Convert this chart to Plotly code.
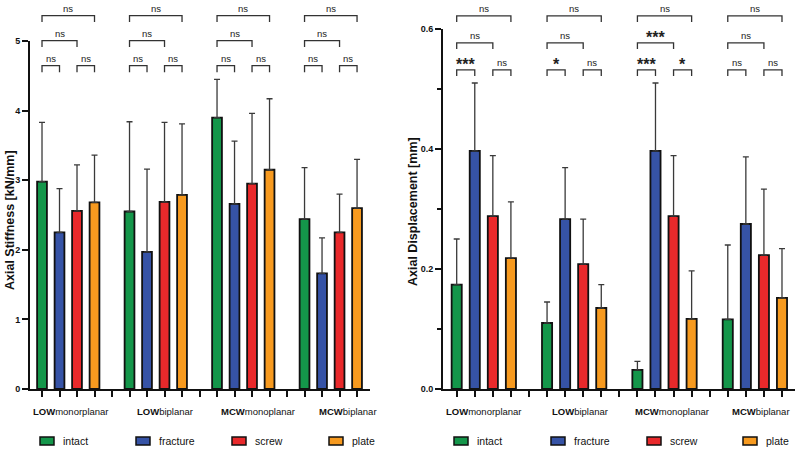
import plotly.graph_objects as go

# ---------------- data ----------------
groups = ["LOW", "LOW", "MCW", "MCW"]
group_suffix = ["monorplanar", "biplanar", "monoplanar", "biplanar"]
conditions = ["intact", "fracture", "screw", "plate"]
colors = ["#14964a", "#3653a6", "#e9292b", "#f79a1f"]

# Axial stiffness [kN/mm]: mean per condition for each group
stiff_intact = [2.98, 2.55, 3.90, 2.44]
stiff_fracture = [2.25, 1.97, 2.66, 1.66]
stiff_screw = [2.56, 2.69, 2.95, 2.25]
stiff_plate = [2.68, 2.79, 3.15, 2.60]
stiff_sd_intact = [0.85, 1.29, 0.55, 0.74]
stiff_sd_fracture = [0.63, 1.19, 0.90, 0.51]
stiff_sd_screw = [0.66, 1.14, 1.01, 0.55]
stiff_sd_plate = [0.68, 1.02, 1.02, 0.70]

# Axial displacement [mm]
disp_intact = [0.174, 0.110, 0.032, 0.116]
disp_fracture = [0.397, 0.283, 0.397, 0.275]
disp_screw = [0.288, 0.208, 0.288, 0.223]
disp_plate = [0.218, 0.135, 0.117, 0.152]
disp_sd_intact = [0.076, 0.035, 0.014, 0.124]
disp_sd_fracture = [0.113, 0.086, 0.113, 0.112]
disp_sd_screw = [0.101, 0.075, 0.101, 0.110]
disp_sd_plate = [0.094, 0.039, 0.080, 0.082]

# significance labels per group: pairs (intact-fracture), (screw-plate), (intact-screw), (intact-plate)
stiff_sig = [["ns", "ns", "ns", "ns"]] * 4
disp_sig = [["***", "ns", "ns", "ns"],
            ["*", "ns", "ns", "ns"],
            ["***", "*", "***", "ns"],
            ["ns", "ns", "ns", "ns"]]

stiff_yticks = [0, 1, 2, 3, 4, 5]
disp_yticks = [0.0, 0.2, 0.4, 0.6]
disp_minor = [0.1, 0.3, 0.5]

# ---------------- layout helpers ----------------
W, H = 799, 450
FONT = "Liberation Sans, Arial, Helvetica, sans-serif"


def pxx(p):
    return p / W


def pxy(p):
    return 1 - p / H


panels = [
    dict(xax="x", yax="y", xdom=(30, 370), xr=(-0.686, 18.74), ydom=(389, 41), yr=(0, 5),
         means=[stiff_intact, stiff_fracture, stiff_screw, stiff_plate],
         sds=[stiff_sd_intact, stiff_sd_fracture, stiff_sd_screw, stiff_sd_plate],
         sig=stiff_sig, levels=[4.645, 5.005, 5.365], tick=0.093,
         title="Axial Stiffness [kN/mm]", title_x=10, title_y=220,
         label_x=[1.63, 7.03, 12.34, 17.46],
         leg_box=[40, 136, 232, 329]),
    dict(xax="x2", yax="y2", xdom=(443, 795), xr=(-0.758, 18.72), ydom=(389, 29), yr=(0, 0.6),
         means=[disp_intact, disp_fracture, disp_screw, disp_plate],
         sds=[disp_sd_intact, disp_sd_fracture, disp_sd_screw, disp_sd_plate],
         sig=disp_sig, levels=[0.532, 0.577, 0.622], tick=0.0105,
         title="Axial Displacement [mm]", title_x=413, title_y=212,
         label_x=[1.49, 6.85, 11.90, 16.86],
         leg_box=[454, 551, 647, 743]),
]


def y_to_paper(p, v):
    d0, d1 = pxy(p["ydom"][0]), pxy(p["ydom"][1])
    r0, r1 = p["yr"]
    return d0 + (v - r0) / (r1 - r0) * (d1 - d0)


fig = go.Figure()
shapes = []
annotations = []

for p in panels:
    for ci, cond in enumerate(conditions):
        xs = [g * 5 + ci for g in range(4)]
        fig.add_trace(go.Bar(
            x=xs, y=p["means"][ci], width=0.56,
            marker=dict(color=colors[ci], line=dict(color="#111111", width=1.8)),
            error_y=dict(type="data", array=p["sds"][ci], arrayminus=[0] * 4, symmetric=False,
                         color="#3a3a3a", thickness=1.3, width=3),
            xaxis=p["xax"], yaxis=p["yax"], showlegend=False, name=cond,
        ))

    # significance brackets
    pairs = [(0, 1, 0), (2, 3, 0), (0, 2, 1), (0, 3, 2)]
    for g in range(4):
        for k, (a, b, lev) in enumerate(pairs):
            xa, xb = g * 5 + a, g * 5 + b
            top = y_to_paper(p, p["levels"][lev])
            bot = y_to_paper(p, p["levels"][lev] - p["tick"])
            shapes.append(dict(type="path", xref=p["xax"], yref="paper",
                               path=f"M {xa},{bot} L {xa},{top} L {xb},{top} L {xb},{bot}",
                               line=dict(color="#333333", width=1.3)))
            txt = p["sig"][g][k]
            star = txt != "ns"
            annotations.append(dict(
                x=(xa + xb) / 2, xref=p["xax"], xanchor="center", yref="paper",
                y=top, yanchor="bottom", yshift=(-5 if star else 0),
                text=f"<b>{txt}</b>" if star else txt, showarrow=False,
                font=dict(family=FONT, size=16 if star else 9.5, color="#222222")))

    # group labels
    for g in range(4):
        annotations.append(dict(
            x=p["label_x"][g], xref=p["xax"], xanchor="center", y=pxy(411), yref="paper",
            yanchor="middle",
            text=f"<b>{groups[g]}</b>{group_suffix[g]}", showarrow=False,
            font=dict(family=FONT, size=9.5, color="#111111")))

    # legend
    for ci, cond in enumerate(conditions):
        bx = p["leg_box"][ci]
        shapes.append(dict(type="rect", xref="paper", yref="paper",
                           x0=pxx(bx), x1=pxx(bx + 14), y0=pxy(445), y1=pxy(437),
                           fillcolor=colors[ci], line=dict(color="#111111", width=1.5)))
        annotations.append(dict(
            x=pxx(bx + 21), xref="paper", y=pxy(441), yref="paper",
            xanchor="left", yanchor="middle", text=cond, showarrow=False,
            font=dict(family=FONT, size=10.5, color="#111111")))

    # axis title
    annotations.append(dict(
        x=pxx(p["title_x"]), xref="paper", xanchor="center",
        y=pxy(p["title_y"]), yref="paper", yanchor="middle",
        text=f"<b>{p['title']}</b>", textangle=-90, showarrow=False,
        font=dict(family=FONT, size=12.5, color="#111111")))

xcommon = dict(showline=True, linewidth=1.8, linecolor="#111111", ticks="outside",
               ticklen=6, tickwidth=1.5, tickcolor="#111111", tickmode="array",
               tickvals=list(range(19)), showticklabels=False, showgrid=False,
               zeroline=False, fixedrange=True, automargin=False)
ycommon = dict(showline=True, linewidth=1.8, linecolor="#111111", ticks="outside",
               ticklen=6, tickwidth=1.5, tickcolor="#111111", showgrid=False,
               zeroline=False, automargin=False,
               tickfont=dict(family=FONT, size=9, color="#111111", weight="bold"))

fig.update_layout(
    template="none",
    width=W, height=H, autosize=False,
    margin=dict(l=0, r=0, t=0, b=0, pad=0),
    paper_bgcolor="white", plot_bgcolor="white",
    barmode="overlay",
    xaxis=dict(domain=[pxx(30), pxx(370)], range=list(panels[0]["xr"]), anchor="y", **xcommon),
    yaxis=dict(domain=[pxy(389), pxy(41)], range=[0, 5], anchor="x", tickmode="array",
               tickvals=stiff_yticks, **ycommon),
    xaxis2=dict(domain=[pxx(443), pxx(795)], range=list(panels[1]["xr"]), anchor="y2", **xcommon),
    yaxis2=dict(domain=[pxy(389), pxy(29)], range=[0, 0.6], anchor="x2", tickmode="array",
                tickvals=disp_yticks, ticktext=[f"{v:.1f}" for v in disp_yticks],
                minor=dict(tickmode="array", tickvals=disp_minor, ticks="outside", ticklen=4,
                           tickwidth=1.5, tickcolor="#111111", showgrid=False),
                **ycommon),
    shapes=shapes,
    annotations=annotations,
    showlegend=False,
)

fig.write_html(
    "out.html",
    config={"displayModeBar": False},
    post_script="document.body.style.margin='0';document.documentElement.style.overflow='hidden';",
)
